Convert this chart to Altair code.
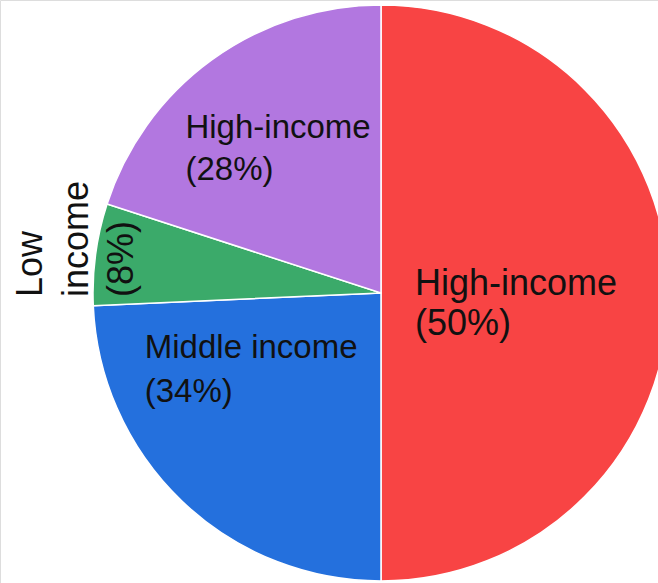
import altair as alt
import pandas as pd

# ---- data ----
slice_ids = [0, 1, 2, 3]
groups = ["High-income", "Middle income", "Low income", "High-income"]
shares = [50.0, 24.3, 5.7, 20.0]          # visual share of the pie
label_pcts = [50, 34, 8, 28]              # percentages printed in the labels
label_texts = ["High-income\n(50%)", "Middle income\n(34%)",
               "Low\nincome\n(8%)", "High-income\n(28%)"]
colors = ["#F84444", "#2470DD", "#3BAA6A", "#B277E0"]

df = pd.DataFrame({
    "idx": slice_ids,
    "group": groups,
    "share": shares,
    "pct": label_pcts,
    "label": label_texts,
})

# ---- layout ----
W, H = 658, 583
CX, CY, R = 381, 293, 288
total = sum(shares)
theta_scale = alt.Scale(domain=[0, total])

base = alt.Chart(df)

arcs = base.mark_arc(radius=R, stroke="white", strokeWidth=1.5).encode(
    theta=alt.Theta("share:Q", stack=True, scale=theta_scale),
    color=alt.Color("idx:N", scale=alt.Scale(domain=slice_ids, range=colors), legend=None),
    order=alt.Order("idx:Q"),
    x=alt.value(CX),
    y=alt.value(CY),
)

# label placement: (radius, dx, dy, fontSize, lineHeight, angle)
label_layout = {
    0: dict(r=34, dx=0, dy=2, size=36, lh=40, angle=0),
    1: dict(r=90, dx=-174, dy=0, size=33, lh=44, angle=0),
    2: dict(r=342, dx=-50, dy=0, size=36, lh=45.5, angle=270),
    3: dict(r=200, dx=-78, dy=7, size=33, lh=42, angle=0),
}

layers = [arcs]
for i in slice_ids:
    lay = label_layout[i]
    t = (
        base.transform_window(cum="sum(share)", sort=[alt.SortField("idx")], frame=[None, 0])
        .transform_calculate(mid="datum.cum - datum.share / 2")
        .transform_filter(alt.datum.idx == i)
        .mark_text(
            align="left",
            baseline="alphabetic",
            dx=lay["dx"],
            dy=lay["dy"],
            angle=lay["angle"],
            fontSize=lay["size"],
            lineHeight=lay["lh"],
            lineBreak="\n",
            font="Liberation Sans",
            color="#111111",
        )
        .encode(
            theta=alt.Theta("mid:Q", stack=None, scale=theta_scale),
            radius=alt.value(lay["r"]),
            text=alt.Text("label:N"),
            x=alt.value(CX),
            y=alt.value(CY),
        )
    )
    layers.append(t)

chart = (
    alt.layer(*layers)
    .properties(width=W, height=H, padding=0, autosize=alt.AutoSizeParams(type="none"))
    .configure_view(stroke=None)
    .configure(background="white")
)

chart.save("out.html", embed_options={"renderer": "svg", "actions": False})
